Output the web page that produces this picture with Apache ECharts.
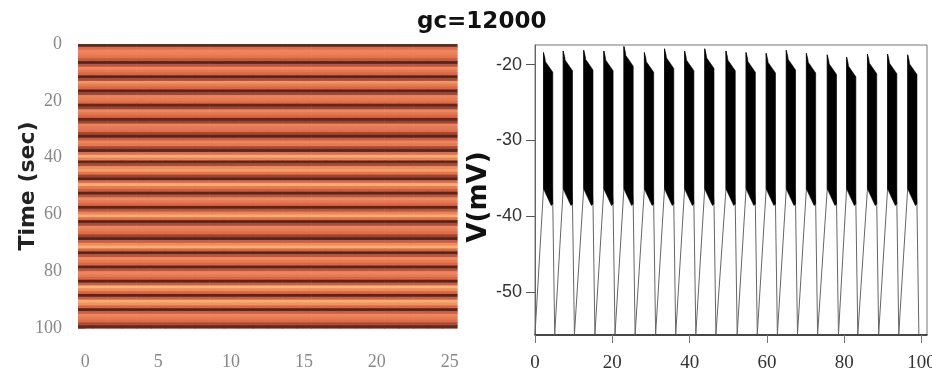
<!DOCTYPE html>
<html>
<head>
<meta charset="utf-8">
<script src="https://cdn.jsdelivr.net/npm/echarts@6/dist/echarts.min.js"></script>
<style>
  html, body { margin: 0; padding: 0; background: #ffffff; }
  #chart { width: 932px; height: 376px; }
</style>
</head>
<body>
<div id="chart"></div>
<script>
// ---- left panel: activity of 26 cells, one level per 1-second row ----
const cellIndex = [0, 1, 2, 3, 4, 5, 6, 7, 8, 9, 10, 11, 12, 13, 14, 15, 16, 17, 18, 19, 20, 21, 22, 23, 24, 25];
const rowLevels = [
  0.12, 0.55, 0.72, 0.68, 0.60, 0.42, 0.08, 0.40, 0.75, 0.62,
  0.50, 0.08, 0.35, 0.80, 0.65, 0.50, 0.08, 0.32, 0.70, 0.65,
  0.55, 0.10, 0.30, 0.72, 0.60, 0.50, 0.10, 0.30, 0.70, 0.62,
  0.55, 0.32, 0.08, 0.45, 0.72, 0.62, 0.32, 0.08, 0.55, 0.92,
  0.70, 0.10, 0.35, 0.75, 0.85, 0.60, 0.30, 0.08, 0.55, 0.90,
  0.65, 0.45, 0.08, 0.40, 0.75, 0.62, 0.50, 0.08, 0.40, 0.70,
  0.90, 0.55, 0.08, 0.35, 0.72, 0.65, 0.55, 0.30, 0.08, 0.45,
  0.75, 0.92, 0.50, 0.08, 0.40, 0.75, 0.65, 0.50, 0.08, 0.40,
  0.72, 0.65, 0.50, 0.08, 0.45, 0.95, 0.75, 0.50, 0.08, 0.45,
  0.90, 0.80, 0.50, 0.08, 0.45, 0.72, 0.65, 0.55, 0.35, 0.10
];
const timeTicks = [0, 20, 40, 60, 80, 100];
const cellTicks = [0, 5, 10, 15, 20, 25];

// ---- right panel: membrane potential, one burst per cycle ----
const burstOn  = [2.2, 7.3, 12.6, 17.8, 23.0, 28.3, 33.5, 38.7, 43.9, 49.4, 54.6, 59.8, 65.0, 70.2, 75.6, 80.6, 86.0, 91.2, 96.4];
const burstOff = [4.6, 9.7, 15.0, 20.2, 25.4, 30.7, 35.9, 41.1, 46.3, 51.8, 57.0, 62.2, 67.4, 72.6, 78.0, 83.0, 88.4, 93.6, 98.8];
const troughT  = [5.1, 10.2, 15.5, 20.7, 25.9, 31.2, 36.4, 41.6, 46.8, 52.3, 57.5, 62.7, 67.9, 73.1, 78.5, 83.5, 88.9, 94.1, 99.3];
const spikePeak = [-18.4, -18.2, -18.1, -18.2, -17.6, -18.4, -17.9, -18.2, -17.9, -18.2, -18.4, -18.5, -18.1, -18.5, -18.7, -19.0, -18.6, -18.6, -18.7];
const startV = -55.6;          // potential at t = 0
const troughV = -55.6;         // after-burst minimum
const rampTopV = -36.4;        // end of slow depolarisation, burst threshold
const bandFloorV = -38.4;      // lowest spike trough near burst end
const vTicks = [-50, -40, -30, -20];
const tTicks = [0, 20, 40, 60, 80, 100];

// heatmap cells: every cell of a row shares the row level
const heatData = [];
rowLevels.forEach((lvl, row) => {
  cellIndex.forEach(c => heatData.push([c, row, lvl]));
});

// slow wave + envelope path of the voltage trace
const trace = [[0, startV]];
burstOn.forEach((on, k) => {
  trace.push([on, rampTopV]);
  trace.push([on, spikePeak[k]]);
  trace.push([burstOff[k], bandFloorV]);
  trace.push([troughT[k], troughV]);
});

// spike-band envelopes (dense spiking shows as a filled band)
const bandData = burstOn.map((on, k) => [on, burstOff[k], spikePeak[k]]);

const serifFont = '"Liberation Serif", "DejaVu Serif", serif';
const sansFont = '"DejaVu Sans", "Liberation Sans", sans-serif';

const chart = echarts.init(document.getElementById('chart'), null, { renderer: 'canvas' });

chart.setOption({
  animation: false,
  backgroundColor: '#ffffff',
  title: {
    text: 'gc=12000',
    left: 417,
    top: 11,
    padding: 0,
    textStyle: { fontFamily: sansFont, fontWeight: 'bold', fontSize: 23, color: '#111111' }
  },
  visualMap: {
    show: false,
    type: 'continuous',
    seriesIndex: 0,
    dimension: 2,
    min: 0,
    max: 1,
    inRange: { color: ['#3a1e17', '#8e3b2a', '#dc6548', '#ef8a5c', '#f7c27c'] }
  },
  grid: [
    { left: 78, top: 44, width: 379, height: 284, outerBoundsMode: 'none' },
    { left: 535, top: 45, width: 392, height: 290, outerBoundsMode: 'none',
      show: true, borderColor: '#777777', borderWidth: 1 }
  ],
  xAxis: [
    {
      type: 'value', gridIndex: 0, min: -0.5, max: 25.5, offset: 5,
      axisLine: { show: false },
      axisTick: { show: true, length: 12, customValues: cellTicks, lineStyle: { color: '#aaaaaa' } },
      axisLabel: { customValues: cellTicks, margin: 20, fontFamily: serifFont, fontSize: 18, color: '#888888' },
      splitLine: { show: false }
    },
    {
      type: 'value', gridIndex: 1, min: 0, max: 101.4,
      axisLine: { show: true, lineStyle: { color: '#222222', width: 1.5 } },
      axisTick: { show: true, length: 8, customValues: tTicks, lineStyle: { color: '#777777' } },
      axisLabel: { customValues: tTicks, margin: 19, fontFamily: serifFont, fontSize: 19, color: '#333333' },
      splitLine: { show: false }
    }
  ],
  yAxis: [
    {
      type: 'value', gridIndex: 0, min: 0, max: 100, inverse: true, offset: 3,
      axisLine: { show: false },
      axisTick: { show: true, length: 7, customValues: timeTicks, lineStyle: { color: '#aaaaaa' } },
      axisLabel: { customValues: timeTicks, margin: 13, fontFamily: serifFont, fontSize: 18, color: '#888888' },
      splitLine: { show: false },
      name: 'Time (sec)',
      nameLocation: 'middle',
      nameRotate: 90,
      nameGap: 36,
      nameMoveOverlap: false,
      nameTextStyle: { fontFamily: sansFont, fontWeight: 'bold', fontSize: 22, color: '#222222' }
    },
    {
      type: 'value', gridIndex: 1, min: -55.7, max: -17.4,
      axisLine: { show: true, lineStyle: { color: '#666666', width: 1 } },
      axisTick: { show: true, length: 9, customValues: vTicks, lineStyle: { color: '#555555' } },
      axisLabel: { customValues: vTicks, margin: 13, fontFamily: '"Liberation Sans", Arial, sans-serif', fontSize: 18, color: '#333333' },
      splitLine: { show: false },
      name: 'V(mV)',
      nameLocation: 'middle',
      nameRotate: 90,
      nameGap: 30,
      nameTextStyle: { fontFamily: sansFont, fontWeight: 'bold', fontSize: 26, color: '#111111', padding: [0, 14, 0, 0] }
    }
  ],
  series: [
    {
      type: 'custom',
      name: 'cells',
      xAxisIndex: 0,
      yAxisIndex: 0,
      data: heatData,
      encode: { x: 0, y: 1 },
      renderItem: function (params, api) {
        const c = api.value(0);
        const t = api.value(1);
        const p0 = api.coord([c - 0.5, t]);
        const p1 = api.coord([c + 0.5, t + 1]);
        return {
          type: 'rect',
          shape: { x: p0[0], y: p0[1], width: p1[0] - p0[0] + 0.6, height: p1[1] - p0[1] + 0.6 },
          style: { fill: api.visual('color') }
        };
      }
    },
    {
      type: 'line',
      name: 'V',
      xAxisIndex: 1,
      yAxisIndex: 1,
      data: trace,
      showSymbol: false,
      symbol: 'none',
      lineStyle: { color: '#666666', width: 1 },
      z: 3
    },
    {
      type: 'custom',
      name: 'spikes',
      xAxisIndex: 1,
      yAxisIndex: 1,
      data: bandData,
      encode: { x: [0, 1], y: 2 },
      renderItem: function (params, api) {
        const on = api.value(0);
        const off = api.value(1);
        const pk = api.value(2);
        const pts = [
          [on, pk],
          [on + 0.35, pk - 0.7],
          [on + 0.5, pk - 1.2],
          [off, pk - 2.6],
          [off, bandFloorV],
          [off - 0.4, bandFloorV - 0.2],
          [on, rampTopV]
        ].map(p => api.coord(p));
        return {
          type: 'polygon',
          shape: { points: pts },
          style: { fill: '#000000', stroke: '#000000', lineWidth: 0.6 }
        };
      },
      z: 4
    }
  ]
});
</script>
</body>
</html>
